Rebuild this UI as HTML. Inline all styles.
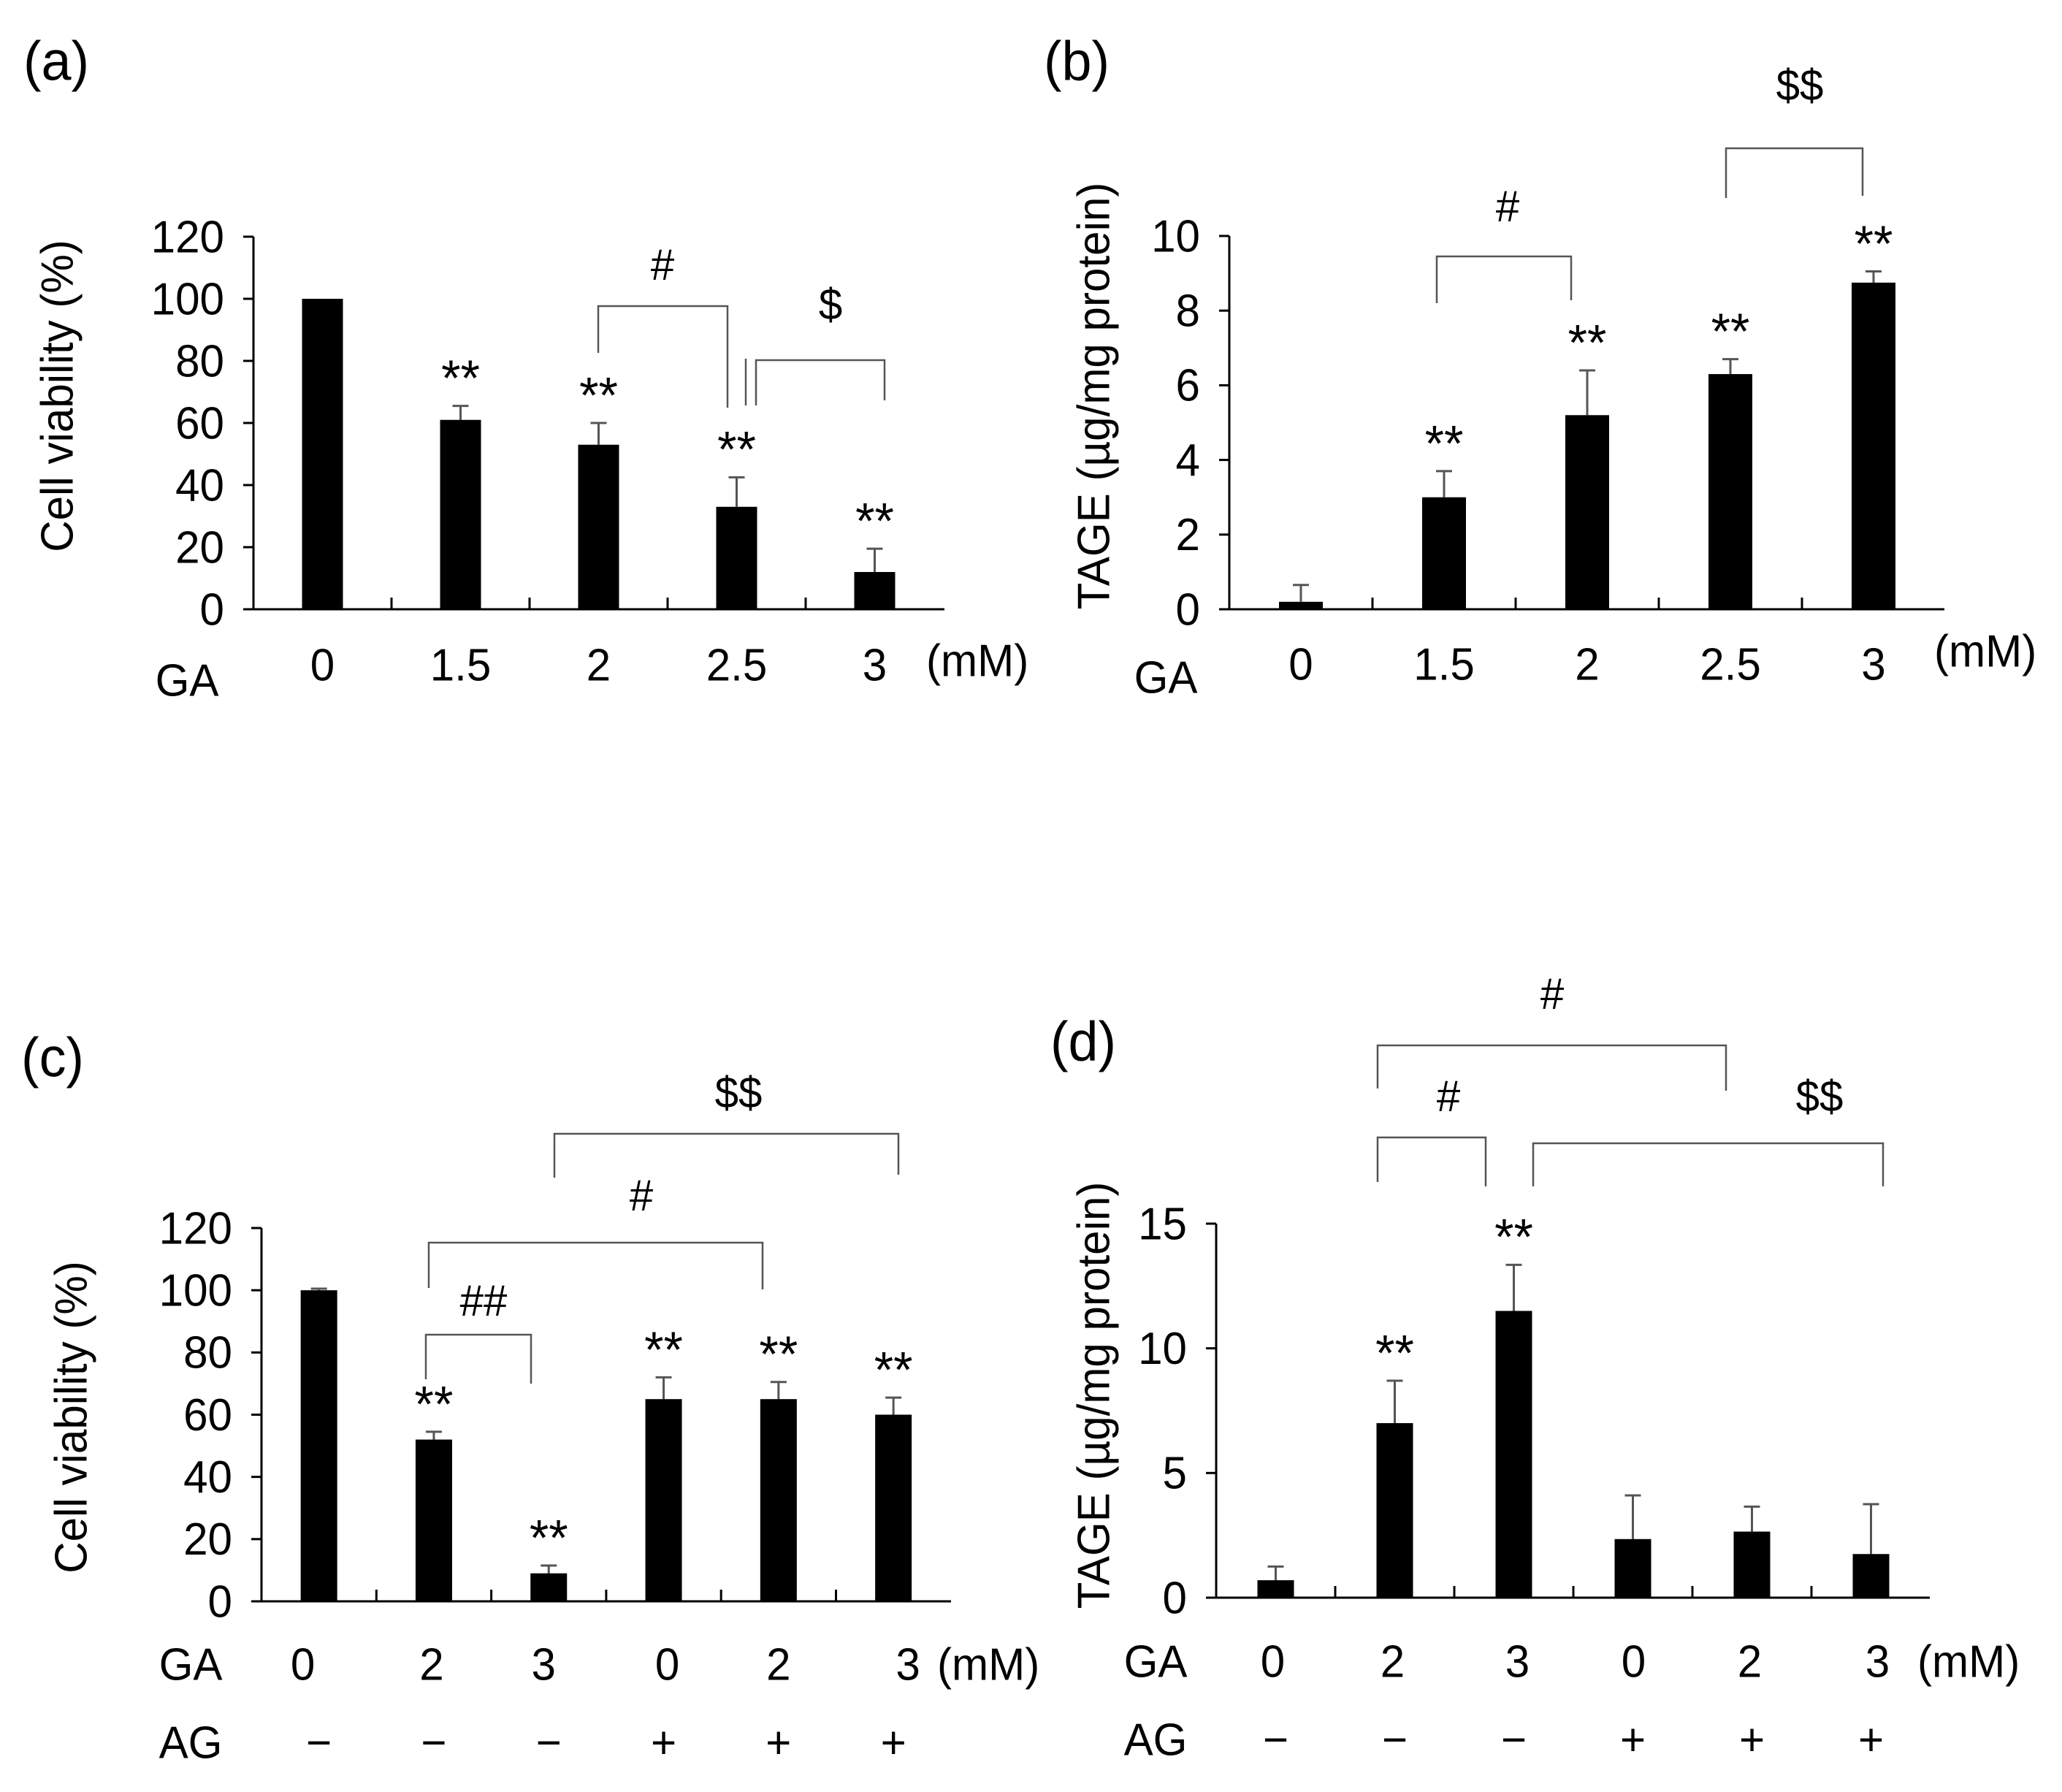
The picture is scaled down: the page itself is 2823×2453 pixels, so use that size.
<!DOCTYPE html>
<html><head><meta charset="utf-8"><style>
html,body{margin:0;padding:0;background:#fff;}
svg{display:block;font-family:"Liberation Sans",sans-serif;}
</style></head><body>
<svg id="fig" width="2823" height="2453" viewBox="0 0 2823 2453"></svg>
<script>
// ---- data ----
const catsA = ["0","1.5","2","2.5","3"];
const valsA = [100,61,53,33,12];
const errA  = [100,65.5,60,42.5,19.5];
const sigA  = ["","**","**","**","**"];
const ticksA = [0,20,40,60,80,100,120];

const catsB = ["0","1.5","2","2.5","3"];
const valsB = [0.2,3.0,5.2,6.3,8.75];
const errB  = [0.65,3.7,6.4,6.7,9.05];
const sigB  = ["","**","**","**","**"];
const ticksB = [0,2,4,6,8,10];

const catsC = ["0","2","3","0","2","3"];
const agC   = ["−","−","−","+","+","+"];
const valsC = [100,52,9,65,65,60];
const errC  = [100.5,54.5,11.5,72,70.5,65.5];
const sigC  = ["","**","**","**","**","**"];
const ticksC = [0,20,40,60,80,100,120];

const catsD = ["0","2","3","0","2","3"];
const agD   = ["−","−","−","+","+","+"];
const valsD = [0.7,7.0,11.5,2.35,2.65,1.75];
const errD  = [1.25,8.7,13.35,4.1,3.65,3.75];
const sigD  = ["","**","**","","",""];
const ticksD = [0,5,10,15];

const svg = document.getElementById('fig');
const NS = 'http://www.w3.org/2000/svg';
const FS = 62, SX = 0.97;
function mk(tag, attrs, parent){
  const e = document.createElementNS(NS, tag);
  for (const k in attrs) e.setAttribute(k, attrs[k]);
  (parent||svg).appendChild(e); return e;
}
function txt(x,y,s,size,name,parent,anchor,rot){
  const t = mk('text',{x:0,y:0,'font-size':size,'text-anchor':anchor||'middle','dominant-baseline':'central',fill:'#000',
    transform:'translate('+x+','+y+')'+(rot?' rotate(-90)':'')+' scale('+SX+',1)'},parent);
  t.textContent = s;
  
  
  return t;
}
function panel(p){
  const g = mk('g',{});
  
  
  const ymax = p.ticks[p.ticks.length-1];
  const yS = v => p.y0 - (v/ymax)*(p.y0 - p.yTop);
  const xS = i => p.xStart + p.step*(i+0.5);
  const ax = mk('line',{x1:p.ax,y1:p.yTop,x2:p.ax,y2:p.y0,stroke:'#000','stroke-width':3},g);
   
  const bx = mk('line',{x1:p.ax,y1:p.y0,x2:p.xEnd,y2:p.y0,stroke:'#000','stroke-width':3},g);
   
  p.ticks.forEach(t=>{
    const y = yS(t);
    const tk = mk('line',{x1:p.ax-14,y1:y,x2:p.ax,y2:y,stroke:'#000','stroke-width':3},g);
     
    txt(p.ax-40,y,String(t),FS,'y-tick-label',g,'end');
  });
  for (let i=1;i<p.cats.length;i++){
    const x = p.xStart + p.step*i;
    const tk = mk('line',{x1:x,y1:p.y0-16,x2:x,y2:p.y0,stroke:'#000','stroke-width':3},g);
     
  }
  p.vals.forEach((v,i)=>{
    const x = xS(i);
    const top = yS(v), et = yS(p.err[i]);
    if (p.err[i] > v + 0.001){
      const e = mk('line',{x1:x,y1:et,x2:x,y2:top,stroke:'#555','stroke-width':3},g);
       
      const c = mk('line',{x1:x-11,y1:et,x2:x+11,y2:et,stroke:'#555','stroke-width':3},g);
       
    }
    const r = mk('rect',{x:x-p.bw/2,y:top,width:p.bw,height:p.y0-top,fill:'#000'},g);
     
    if (p.sig[i]) txt(x, et-38, p.sig[i], 70, 'significance-mark', g);
  });
  p.cats.forEach((c,i)=>txt(xS(i)+(p.labDx?p.labDx[i]:0), p.gaY, c, FS, 'ga-label', g));
  txt(p.gaX, p.gaY+(p.gaDy||0), 'GA', FS, 'ga-row-title', g);
  txt(p.mmX, p.gaY-(p.mmDy||0), '(mM)', FS, 'unit-label', g, 'start');
  if (p.ag){
    p.ag.forEach((c,i)=>txt(xS(i), p.agY, c, FS, 'ag-label', g));
    txt(p.gaX, p.agY, 'AG', FS, 'ag-row-title', g);
  }
  txt(p.ytX,p.ytY,p.ytitle,FS,'y-axis-title',g,'middle',true);
  txt(p.plX,p.plY,p.pl,76,'panel-label',g);
  p.brackets.forEach(b=>{
    const pl = mk('polyline',{points:b.x1+','+b.d1+' '+b.x1+','+b.y+' '+b.x2+','+b.y+' '+b.x2+','+b.d2,fill:'none',stroke:'#555','stroke-width':2.5},g);
     
    txt(b.tx,b.ty,b.t,60,'bracket-label',g);
  });
}
panel({name:'panel-a',pl:'(a)',plX:77,plY:83,cats:catsA,vals:valsA,err:errA,sig:sigA,ticks:ticksA,
  ax:347,xStart:347,step:189,xEnd:1293,yTop:324,y0:834,bw:56,gaY:910,gaX:256,gaDy:21,mmX:1268,mmDy:6,
  ytitle:'Cell viability (%)',ytX:78,ytY:542,
  brackets:[{x1:819,x2:996,y:419,d1:483,d2:558,t:'#',tx:907,ty:362},
            {x1:1035,x2:1211,y:493,d1:555,d2:548,t:'$',tx:1137,ty:416}]});
mk('line',{x1:1021,y1:491,x2:1021,y2:555,stroke:'#555','stroke-width':2.5});
panel({name:'panel-b',pl:'(b)',plX:1474,plY:83,cats:catsB,vals:valsB,err:errB,sig:sigB,ticks:ticksB,
  ax:1683,xStart:1683,step:196,xEnd:2662,yTop:323,y0:834,bw:60,gaY:909,gaX:1596,gaDy:18,mmX:2648,mmDy:18,
  ytitle:'TAGE (µg/mg protein)',ytX:1497,ytY:542,
  brackets:[{x1:1967,x2:2151,y:351,d1:415,d2:411,t:'#',tx:2064,ty:282},
            {x1:2363,x2:2550,y:203,d1:271,d2:268,t:'$$',tx:2464,ty:116}]});
panel({name:'panel-c',pl:'(c)',plX:72,plY:1447,cats:catsC,ag:agC,vals:valsC,err:errC,sig:sigC,ticks:ticksC,
  ax:358,xStart:358,step:157.3,xEnd:1302,yTop:1681,y0:2192,bw:50,gaY:2278,gaX:261,mmX:1283,agY:2385,
  labDx:[-22,-3,-7,5,0,20],
  ytitle:'Cell viability (%)',ytX:97,ytY:1940,
  brackets:[{x1:759,x2:1230,y:1552,d1:1612,d2:1608,t:'$$',tx:1011,ty:1495},
            {x1:587,x2:1044,y:1701,d1:1763,d2:1765,t:'#',tx:878,ty:1636},
            {x1:583,x2:727,y:1827,d1:1888,d2:1894,t:'##',tx:662,ty:1780}]});
panel({name:'panel-d',pl:'(d)',plX:1483,plY:1425,cats:catsD,ag:agD,vals:valsD,err:errD,sig:sigD,ticks:ticksD,
  ax:1665,xStart:1665,step:163,xEnd:2642,yTop:1675,y0:2187,bw:50,gaY:2274,gaX:1582,mmX:2625,agY:2381,
  labDx:[-4,-3,5,1,-3,9],
  ytitle:'TAGE (µg/mg protein)',ytX:1497,ytY:1910,
  brackets:[{x1:1886,x2:2363,y:1431,d1:1490,d2:1493,t:'#',tx:2125,ty:1360},
            {x1:1886,x2:2034,y:1557,d1:1618,d2:1624,t:'#',tx:1983,ty:1500},
            {x1:2099,x2:2578,y:1565,d1:1624,d2:1624,t:'$$',tx:2491,ty:1500}]});
</script>
</body></html>
